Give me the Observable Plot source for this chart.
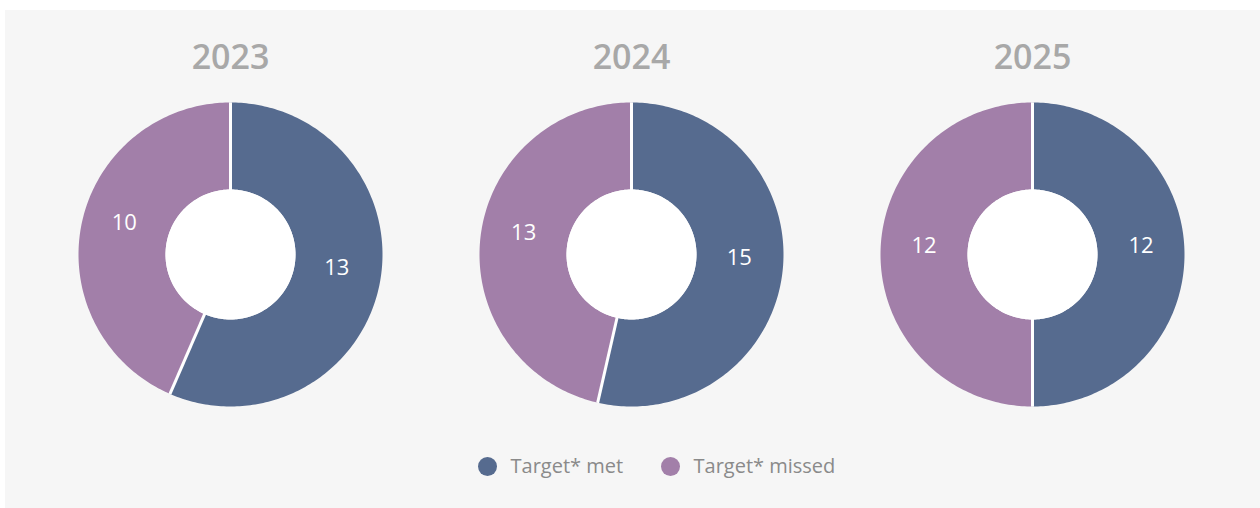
<!DOCTYPE html>
<html>
<head>
<meta charset="utf-8">
<script src="https://cdn.jsdelivr.net/npm/d3@7"></script>
<script src="https://cdn.jsdelivr.net/npm/@observablehq/plot@0.6"></script>
<style>
  html, body { margin: 0; padding: 0; background: #ffffff; }
  #wrap { position: relative; width: 1260px; height: 508px; overflow: hidden; }
  #panel { position: absolute; left: 5px; top: 10px; width: 1255px; height: 498px; background: #f6f6f6; }
  #chart { position: absolute; left: 0; top: 0; }
</style>
</head>
<body>
<div id="wrap"><div id="panel"></div><div id="chart"></div></div>
<script>
// ---- data ----
const years = ["2023", "2024", "2025"];
const categories = ["Target* met", "Target* missed"];
const met = [13, 15, 12];
const missed = [10, 13, 12];
const colors = ["#566b8f", "#a27fa9"];

// ---- layout constants (units: outer radius = 1) ----
const W = 1260, H = 508;
const PX = 152;              // pixels per unit
const CX0 = 230, CY = 254;   // first donut center in px
const STEP = 401 / PX;       // spacing between donuts
const R_OUT = 1, R_IN = 65 / PX;
const R_LAB = (R_OUT + R_IN) / 2;

const xDomain = [-CX0 / PX, (W - CX0) / PX];
const yDomain = [-(H - CY) / PX, CY / PX];

// build slices from the values
const slicePts = [];
const labels = [];
const seps = [];
const holes = [];
const titles = [];
years.forEach((yr, i) => {
  const cx = i * STEP;
  const vals = [met[i], missed[i]];
  const total = d3.sum(vals);
  let a0 = 0;
  titles.push({x: cx, y: (CY - 58) / PX, text: yr});
  vals.forEach((v, j) => {
    const a1 = a0 + (v / total) * 2 * Math.PI;
    const id = yr + "-" + j;
    const n = Math.max(8, Math.ceil((a1 - a0) / (Math.PI / 180)));
    for (let k = 0; k <= n; k++) {
      const a = a0 + (a1 - a0) * k / n;
      slicePts.push({id, cat: categories[j], x: cx + R_OUT * Math.sin(a), y: R_OUT * Math.cos(a)});
    }
    for (let k = n; k >= 0; k--) {
      const a = a0 + (a1 - a0) * k / n;
      slicePts.push({id, cat: categories[j], x: cx + R_IN * Math.sin(a), y: R_IN * Math.cos(a)});
    }
    const am = (a0 + a1) / 2;
    labels.push({x: cx + R_LAB * Math.sin(am), y: R_LAB * Math.cos(am), text: String(v)});
    seps.push({x1: cx + R_IN * 0.9 * Math.sin(a0), y1: R_IN * 0.9 * Math.cos(a0),
               x2: cx + R_OUT * 1.001 * Math.sin(a0), y2: R_OUT * 1.001 * Math.cos(a0)});
    a0 = a1;
  });
  for (let k = 0; k <= 180; k++) {
    const a = k / 180 * 2 * Math.PI;
    holes.push({id: yr, x: cx + R_IN * Math.sin(a), y: R_IN * Math.cos(a)});
  }
});

// legend items
const legendItems = categories.map((c, j) => ({
  cat: c,
  x: ((j === 0 ? 487 : 670) - CX0) / PX,
  y: (CY - 466) / PX
}));

const font = "'Open Sans', 'DejaVu Sans', sans-serif";

const chart = Plot.plot({
  width: W,
  height: H,
  margin: 0,
  style: {background: "transparent", fontFamily: font, overflow: "visible"},
  x: {domain: xDomain, axis: null},
  y: {domain: yDomain, axis: null},
  color: {domain: categories, range: colors},
  marks: [
    Plot.line(slicePts, {x: "x", y: "y", z: "id", fill: "cat", stroke: "none", curve: "linear"}),
    Plot.line(holes, {x: "x", y: "y", z: "id", fill: "#ffffff", stroke: "none"}),
    Plot.link(seps, {x1: "x1", y1: "y1", x2: "x2", y2: "y2", stroke: "#ffffff", strokeWidth: 3}),
    Plot.text(labels, {x: "x", y: "y", text: "text", fill: "#ffffff", fontSize: 22, dy: -9, lineAnchor: "middle"}),
    Plot.text(titles, {x: "x", y: "y", text: "text", fill: "#a8a8a8", fontSize: 34, fontWeight: 600, lineAnchor: "middle"}),
    Plot.dot(legendItems, {x: "x", y: "y", fill: "cat", r: 9.5, stroke: "none"}),
    Plot.text(legendItems, {x: "x", y: "y", text: "cat", dx: 23, textAnchor: "start", lineAnchor: "middle", fill: "#8a8a8a", fontSize: 20})
  ]
});
document.getElementById("chart").appendChild(chart);
</script>
</body>
</html>
